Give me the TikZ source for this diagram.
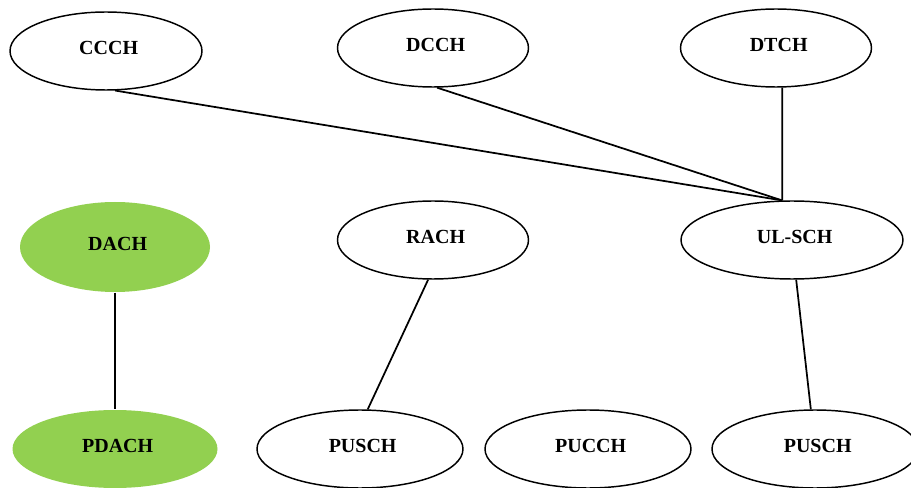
\documentclass[tikz,border=0pt]{standalone}
\usepackage{fontspec}
\setmainfont{Liberation Serif}
\usetikzlibrary{shapes.geometric}
\definecolor{leafgreen}{HTML}{92D050}
\begin{document}
\begin{tikzpicture}[x=0.75pt,y=-0.75pt,
  chan/.style={ellipse,draw=black,line width=1.1pt,inner sep=0pt,
    minimum width=#1*0.75pt,minimum height=78*0.75pt,
    text depth=4pt,execute at begin node={\kern4pt},
    font=\fontsize{15pt}{18pt}\selectfont\bfseries},
  chan/.default=191,
  greenchan/.style={chan=#1,draw=none,fill=leafgreen},
  greenchan/.default=191,
  link/.style={line width=1.3pt}]
\useasboundingbox (0,0) rectangle (911,488);
% logical channels
\node[chan=192] (ccch) at (106,51) {CCCH};
\node[chan] (dcch) at (433,48) {DCCH};
\node[chan] (dtch) at (776,48) {DTCH};
% transport channels
\node[greenchan=190,minimum height=90*0.75pt] (dach) at (115,247) {DACH};
\node[chan] (rach) at (433,240) {RACH};
\node[chan=222] (ulsch) at (792,240) {UL-SCH};
% physical channels
\node[greenchan=205] (pdach) at (115,449) {PDACH};
\node[chan=206] (pusch1) at (360,449) {PUSCH};
\node[chan=206] (pucch) at (588,449) {PUCCH};
\node[chan=206] (pusch2) at (815,449) {PUSCH};
% mappings
\draw[link] (ccch.-77) -- (ulsch.104);
\draw[link] (dcch.-84) -- (ulsch.104);
\draw[link] (dtch.-81) -- (ulsch.104);
\draw[link,line width=1.6pt] (dach.south) -- (pdach.north);
\draw[link] (rach.-97) -- (pusch1.79);
\draw[link] (ulsch.-84) -- (pusch2.96);
\end{tikzpicture}
\end{document}
